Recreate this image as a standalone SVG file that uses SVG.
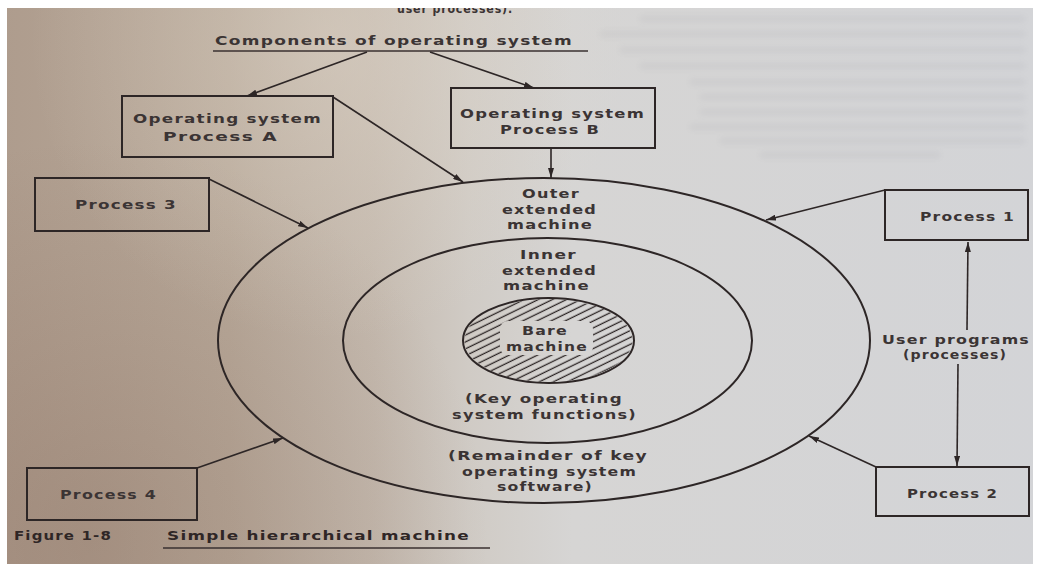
<svg xmlns="http://www.w3.org/2000/svg" width="1041" height="567" viewBox="0 0 1041 567">
  <defs>
    <linearGradient id="paper" x1="0" y1="0" x2="1" y2="0">
      <stop offset="0" stop-color="#ae9c8d"/>
      <stop offset="0.22" stop-color="#b8a99a"/>
      <stop offset="0.36" stop-color="#c4b9ae"/>
      <stop offset="0.45" stop-color="#d0cbc5"/>
      <stop offset="0.55" stop-color="#d6d5d4"/>
      <stop offset="1" stop-color="#d3d4d7"/>
    </linearGradient>
    <radialGradient id="shadeLow" cx="90" cy="540" r="400" gradientUnits="userSpaceOnUse">
      <stop offset="0" stop-color="#7d5e4f" stop-opacity="0.28"/>
      <stop offset="1" stop-color="#7d5e4f" stop-opacity="0"/>
    </radialGradient>
    <radialGradient id="lightTop" cx="330" cy="40" r="300" gradientUnits="userSpaceOnUse">
      <stop offset="0" stop-color="#e2d9cc" stop-opacity="0.45"/>
      <stop offset="1" stop-color="#e2d9cc" stop-opacity="0"/>
    </radialGradient>
    <filter id="smear" x="-5%" y="-100%" width="110%" height="300%">
      <feGaussianBlur stdDeviation="3"/>
    </filter>
    <marker id="arrow" viewBox="0 0 10 6" refX="10" refY="3" markerWidth="10" markerHeight="6" markerUnits="userSpaceOnUse" orient="auto">
      <path d="M0,0 L10,3 L0,6 z" fill="#2d2626"/>
    </marker>
    <pattern id="hatch" patternUnits="userSpaceOnUse" width="12" height="6.2" patternTransform="rotate(-26)">
      <line x1="0" y1="3" x2="12" y2="3" stroke="#2d2626" stroke-width="1.3"/>
    </pattern>
    <mask id="bareGap">
      <rect x="0" y="0" width="1041" height="567" fill="#fff"/>
      <rect x="500" y="321" width="93" height="34" rx="8" fill="#000"/>
    </mask>
    <style>
      .lbl { font-family: "DejaVu Sans", "Open Sans", sans-serif; font-size: 13px; font-weight: bold; letter-spacing: 1px; fill: #3b3434; }
      .cap { font-family: "DejaVu Sans", "Open Sans", sans-serif; font-size: 13px; font-weight: bold; letter-spacing: 1px; fill: #2f2626; }
      .box { fill: none; stroke: #2d2626; stroke-width: 2; }
      .ring { fill: none; stroke: #2d2626; stroke-width: 2; }
      .conn { fill: none; stroke: #2d2626; stroke-width: 1.6; }
      .rule { stroke: #3a3030; stroke-width: 1.4; }
    </style>
  </defs>

  <!-- paper -->
  <rect x="0" y="0" width="1041" height="567" fill="url(#paper)"/>
  <rect x="0" y="0" width="1041" height="567" fill="url(#shadeLow)"/>
  <rect x="0" y="0" width="1041" height="567" fill="url(#lightTop)"/>

  <!-- faint print showing through from the reverse side -->
  <g opacity="0.07" stroke="#4a4a55" stroke-width="5" filter="url(#smear)">
    <line x1="640" y1="19" x2="1025" y2="19"/>
    <line x1="600" y1="34" x2="1025" y2="34"/>
    <line x1="620" y1="50" x2="1025" y2="50"/>
    <line x1="640" y1="66" x2="1025" y2="66"/>
    <line x1="690" y1="82" x2="1025" y2="82"/>
    <line x1="700" y1="97" x2="1025" y2="97"/>
    <line x1="700" y1="112" x2="1025" y2="112"/>
    <line x1="690" y1="127" x2="1025" y2="127"/>
    <line x1="720" y1="141" x2="1025" y2="141"/>
    <line x1="760" y1="155" x2="940" y2="155"/>
  </g>

  <!-- running text cut at the top edge -->
  <text class="lbl" x="397" y="13" textLength="116" lengthAdjust="spacingAndGlyphs">user processes).</text>

  <!-- title -->
  <g id="title">
    <text class="lbl" x="215" y="45" textLength="358" lengthAdjust="spacingAndGlyphs">Components of operating system</text>
    <line class="rule" x1="213" y1="51" x2="588" y2="51"/>
  </g>

  <!-- rings -->
  <g id="outer-machine">
    <ellipse class="ring" cx="544" cy="340.5" rx="326" ry="162.5"/>
    <text class="lbl" x="522" y="198" textLength="58" lengthAdjust="spacingAndGlyphs">Outer</text>
    <text class="lbl" x="502" y="213.5" textLength="95" lengthAdjust="spacingAndGlyphs">extended</text>
    <text class="lbl" x="507" y="229" textLength="86" lengthAdjust="spacingAndGlyphs">machine</text>
    <text class="lbl" x="448" y="460" textLength="200" lengthAdjust="spacingAndGlyphs">(Remainder of key</text>
    <text class="lbl" x="462" y="475.5" textLength="175" lengthAdjust="spacingAndGlyphs">operating system</text>
    <text class="lbl" x="497" y="491" textLength="96" lengthAdjust="spacingAndGlyphs">software)</text>
  </g>

  <g id="inner-machine">
    <ellipse class="ring" cx="547.5" cy="340.5" rx="204.5" ry="102.5"/>
    <text class="lbl" x="520" y="259" textLength="57" lengthAdjust="spacingAndGlyphs">Inner</text>
    <text class="lbl" x="502" y="274.5" textLength="95" lengthAdjust="spacingAndGlyphs">extended</text>
    <text class="lbl" x="503" y="290" textLength="87" lengthAdjust="spacingAndGlyphs">machine</text>
    <text class="lbl" x="465" y="403" textLength="158" lengthAdjust="spacingAndGlyphs">(Key operating</text>
    <text class="lbl" x="452" y="418.5" textLength="185" lengthAdjust="spacingAndGlyphs">system functions)</text>
  </g>

  <g id="bare-machine">
    <ellipse cx="548.5" cy="340.5" rx="84" ry="41.5" fill="url(#hatch)" mask="url(#bareGap)"/>
    <ellipse class="ring" cx="548.5" cy="340.5" rx="85.5" ry="42.5"/>
    <text class="lbl" x="522" y="335" textLength="46" lengthAdjust="spacingAndGlyphs">Bare</text>
    <text class="lbl" x="506" y="350.5" textLength="82" lengthAdjust="spacingAndGlyphs">machine</text>
  </g>

  <!-- process boxes -->
  <g id="os-process-a">
    <rect class="box" x="122" y="96" width="211" height="61"/>
    <text class="lbl" x="133" y="123" textLength="189" lengthAdjust="spacingAndGlyphs">Operating system</text>
    <text class="lbl" x="163" y="141" textLength="115" lengthAdjust="spacingAndGlyphs">Process A</text>
  </g>
  <g id="os-process-b">
    <rect class="box" x="451" y="88" width="204" height="60"/>
    <text class="lbl" x="460" y="118" textLength="185" lengthAdjust="spacingAndGlyphs">Operating system</text>
    <text class="lbl" x="500" y="133.5" textLength="100" lengthAdjust="spacingAndGlyphs">Process B</text>
  </g>
  <g id="process-3">
    <rect class="box" x="35" y="178" width="174" height="53"/>
    <text class="lbl" x="75" y="209" textLength="102" lengthAdjust="spacingAndGlyphs">Process 3</text>
  </g>
  <g id="process-1">
    <rect class="box" x="885" y="190" width="143" height="50"/>
    <text class="lbl" x="920" y="221" textLength="95" lengthAdjust="spacingAndGlyphs">Process 1</text>
  </g>
  <g id="process-4">
    <rect class="box" x="27" y="468" width="170" height="52"/>
    <text class="lbl" x="60" y="499" textLength="97" lengthAdjust="spacingAndGlyphs">Process 4</text>
  </g>
  <g id="process-2">
    <rect class="box" x="876" y="467" width="153" height="49"/>
    <text class="lbl" x="907" y="498" textLength="91" lengthAdjust="spacingAndGlyphs">Process 2</text>
  </g>
  <g id="user-programs">
    <text class="lbl" x="882" y="343.5" textLength="148" lengthAdjust="spacingAndGlyphs">User programs</text>
    <text class="lbl" x="903" y="359" textLength="104" lengthAdjust="spacingAndGlyphs">(processes)</text>
  </g>

  <!-- connectors -->
  <g id="connectors" marker-end="url(#arrow)">
    <path class="conn" d="M367,52 L247,96"/>
    <path class="conn" d="M430,52 L534,88"/>
    <path class="conn" d="M333,97 L463,182"/>
    <path class="conn" d="M551,148 L551,178"/>
    <path class="conn" d="M209,179 L308,228"/>
    <path class="conn" d="M885,190 L766,220"/>
    <path class="conn" d="M197,468 L283,438"/>
    <path class="conn" d="M876,467 L809,436"/>
    <path class="conn" d="M967,330 L968,242"/>
    <path class="conn" d="M958,364 L957,466"/>
  </g>

  <!-- caption -->
  <g id="caption">
    <text class="cap" x="14" y="540" textLength="98" lengthAdjust="spacingAndGlyphs">Figure 1-8</text>
    <text class="cap" x="167" y="540" textLength="303" lengthAdjust="spacingAndGlyphs">Simple hierarchical machine</text>
    <line class="rule" x1="163" y1="548" x2="490" y2="548"/>
  </g>

  <!-- white margins of the scan -->
  <rect x="0" y="0" width="1041" height="8" fill="#ffffff"/>
  <rect x="0" y="0" width="7" height="567" fill="#ffffff"/>
  <rect x="1033" y="0" width="8" height="567" fill="#ffffff"/>
  <rect x="0" y="564" width="1041" height="3" fill="#ffffff"/>
</svg>
